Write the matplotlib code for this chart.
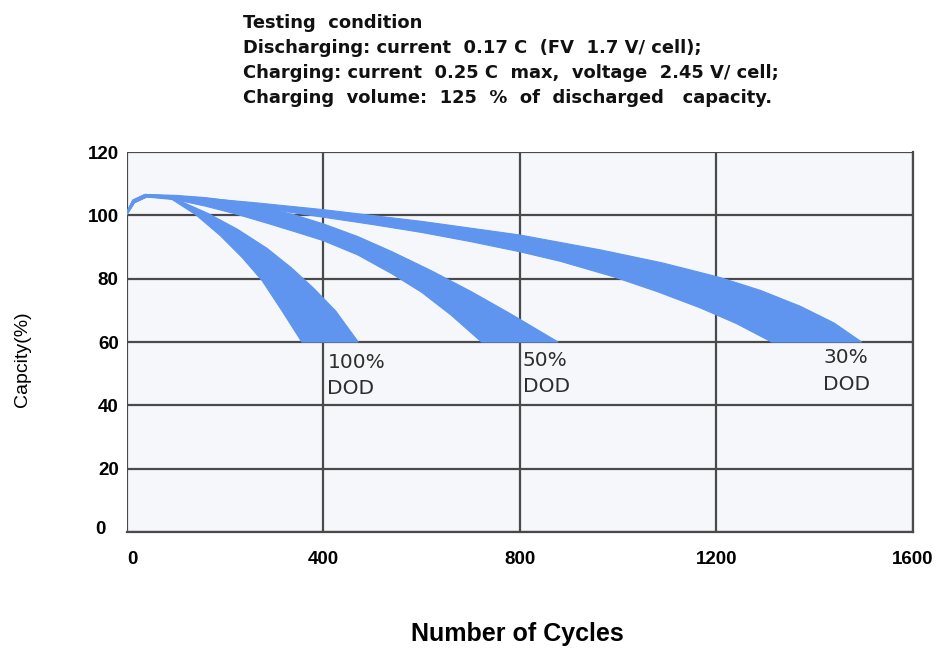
import matplotlib.pyplot as plt
from matplotlib import font_manager
import matplotlib.transforms as mtransforms
import numpy as np

# band edges: (cycles, capacity %)
dod100_upper_x = [0, 12, 37, 60, 110, 165, 225, 285, 335, 380, 425, 471]
dod100_upper_y = [101.2, 104.8, 106.6, 106.3, 104.4, 100.6, 95.6, 89.6, 83.4, 77.0, 69.8, 60.0]
dod100_lower_x = [0, 15, 40, 88, 140, 190, 235, 275, 315, 356]
dod100_lower_y = [100.3, 104.0, 105.8, 105.4, 100.2, 93.6, 86.6, 79.4, 70.0, 60.0]

dod50_upper_x = [0, 12, 37, 100, 160, 220, 280, 340, 400, 470, 540, 620, 700, 780, 878]
dod50_upper_y = [101.2, 104.8, 106.6, 106.3, 105.6, 104.4, 102.6, 100.2, 97.3, 93.3, 88.5, 82.5, 76.0, 69.0, 60.0]
dod50_lower_x = [0, 15, 40, 100, 160, 220, 290, 353, 400, 470, 540, 600, 660, 722]
dod50_lower_y = [100.3, 104.0, 105.8, 104.9, 102.9, 100.5, 97.3, 94.3, 92.0, 87.5, 81.5, 75.7, 68.5, 60.0]

dod30_upper_x = [0, 12, 37, 130, 260, 400, 600, 800, 964, 1090, 1207, 1290, 1371, 1440, 1496]
dod30_upper_y = [101.2, 104.8, 106.6, 105.8, 104.0, 101.8, 98.1, 93.8, 89.1, 85.0, 80.4, 76.3, 71.3, 66.0, 60.0]
dod30_lower_x = [0, 15, 40, 130, 220, 310, 400, 500, 600, 700, 800, 882, 991, 1080, 1167, 1240, 1313]
dod30_lower_y = [100.3, 104.0, 105.8, 105.3, 103.6, 101.5, 99.4, 97.1, 94.6, 91.7, 88.5, 85.5, 80.6, 75.9, 70.8, 65.9, 60.0]

bands = [
    (dod100_upper_x, dod100_upper_y, dod100_lower_x, dod100_lower_y),
    (dod50_upper_x, dod50_upper_y, dod50_lower_x, dod50_lower_y),
    (dod30_upper_x, dod30_upper_y, dod30_lower_x, dod30_lower_y),
]

labels = ['100%\nDOD', '50%\nDOD', '30%\nDOD']
label_x = [408, 806, 1418]
label_y = [56.6, 57.2, 58.0]

x_ticks = [0, 400, 800, 1200, 1600]
y_ticks = [0, 20, 40, 60, 80, 100, 120]

header = ('Testing  condition\n'
          'Discharging: current  0.17 C  (FV  1.7 V/ cell);\n'
          'Charging: current  0.25 C  max,  voltage  2.45 V/ cell;\n'
          'Charging  volume:  125  %  of  discharged   capacity.')

installed = {f.name for f in font_manager.fontManager.ttflist}
narrow = 'Liberation Sans Narrow' if 'Liberation Sans Narrow' in installed else None

plt.rcParams['font.family'] = ['Liberation Sans', 'DejaVu Sans']

fig = plt.figure(figsize=(9.52, 6.53), dpi=100)
ax = fig.add_axes([0.1334, 0.1853, 0.8253, 0.5819])
ax.set_facecolor('#f6f7fb')

blue = '#5f95ef'
for ux, uy, lx, ly in bands:
    px = np.concatenate([ux, lx[::-1]])
    py = np.concatenate([uy, ly[::-1]])
    ax.fill(px, py, color=blue, lw=0.8, edgecolor=blue, zorder=3)

for t, x, y in zip(labels, label_x, label_y):
    ax.text(x, y, t, ha='left', va='top', fontsize=14.5, color='#2e2e2e',
            family=['DejaVu Sans'], linespacing=1.5, zorder=4)

ax.set_xlim(0, 1600)
ax.set_ylim(0, 120)
ax.set_xticks(x_ticks)
ax.set_yticks(y_ticks)
ax.grid(True, color='#4a4a4a', lw=1.6, zorder=1)
ax.set_axisbelow(True)
ax.tick_params(length=0, labelsize=13.5, pad=14)
ax.tick_params(axis='y', pad=6)
for lab in ax.get_xticklabels() + ax.get_yticklabels():
    lab.set_fontweight('bold')
ax.get_xticklabels()[0].set_horizontalalignment('left')
shift = mtransforms.ScaledTranslation(-0.13, 0.04, fig.dpi_scale_trans)
ylab0 = ax.get_yticklabels()[0]
ylab0.set_transform(ylab0.get_transform() + shift)

for s in ['left', 'top']:
    ax.spines[s].set_visible(False)
for s in ['right', 'bottom']:
    ax.spines[s].set_color('#4a4a4a')
    ax.spines[s].set_linewidth(1.6)

ax.set_xlabel('Number of Cycles', fontsize=18, fontweight='bold')
if narrow:
    ax.set_ylabel('Capcity(%)', fontsize=17, family=[narrow, 'DejaVu Sans'])
else:
    ax.set_ylabel('Capcity(%)', fontsize=14)
ax.yaxis.set_label_coords(-0.122, 0.455)
ax.xaxis.set_label_coords(0.497, -0.237)

fig.text(0.255, 0.978, header, ha='left', va='top', fontsize=12.9,
         family=['DejaVu Sans'], fontweight='bold', linespacing=1.5,
         color='#111111')

fig.savefig('out.png', dpi=100, facecolor='white')
